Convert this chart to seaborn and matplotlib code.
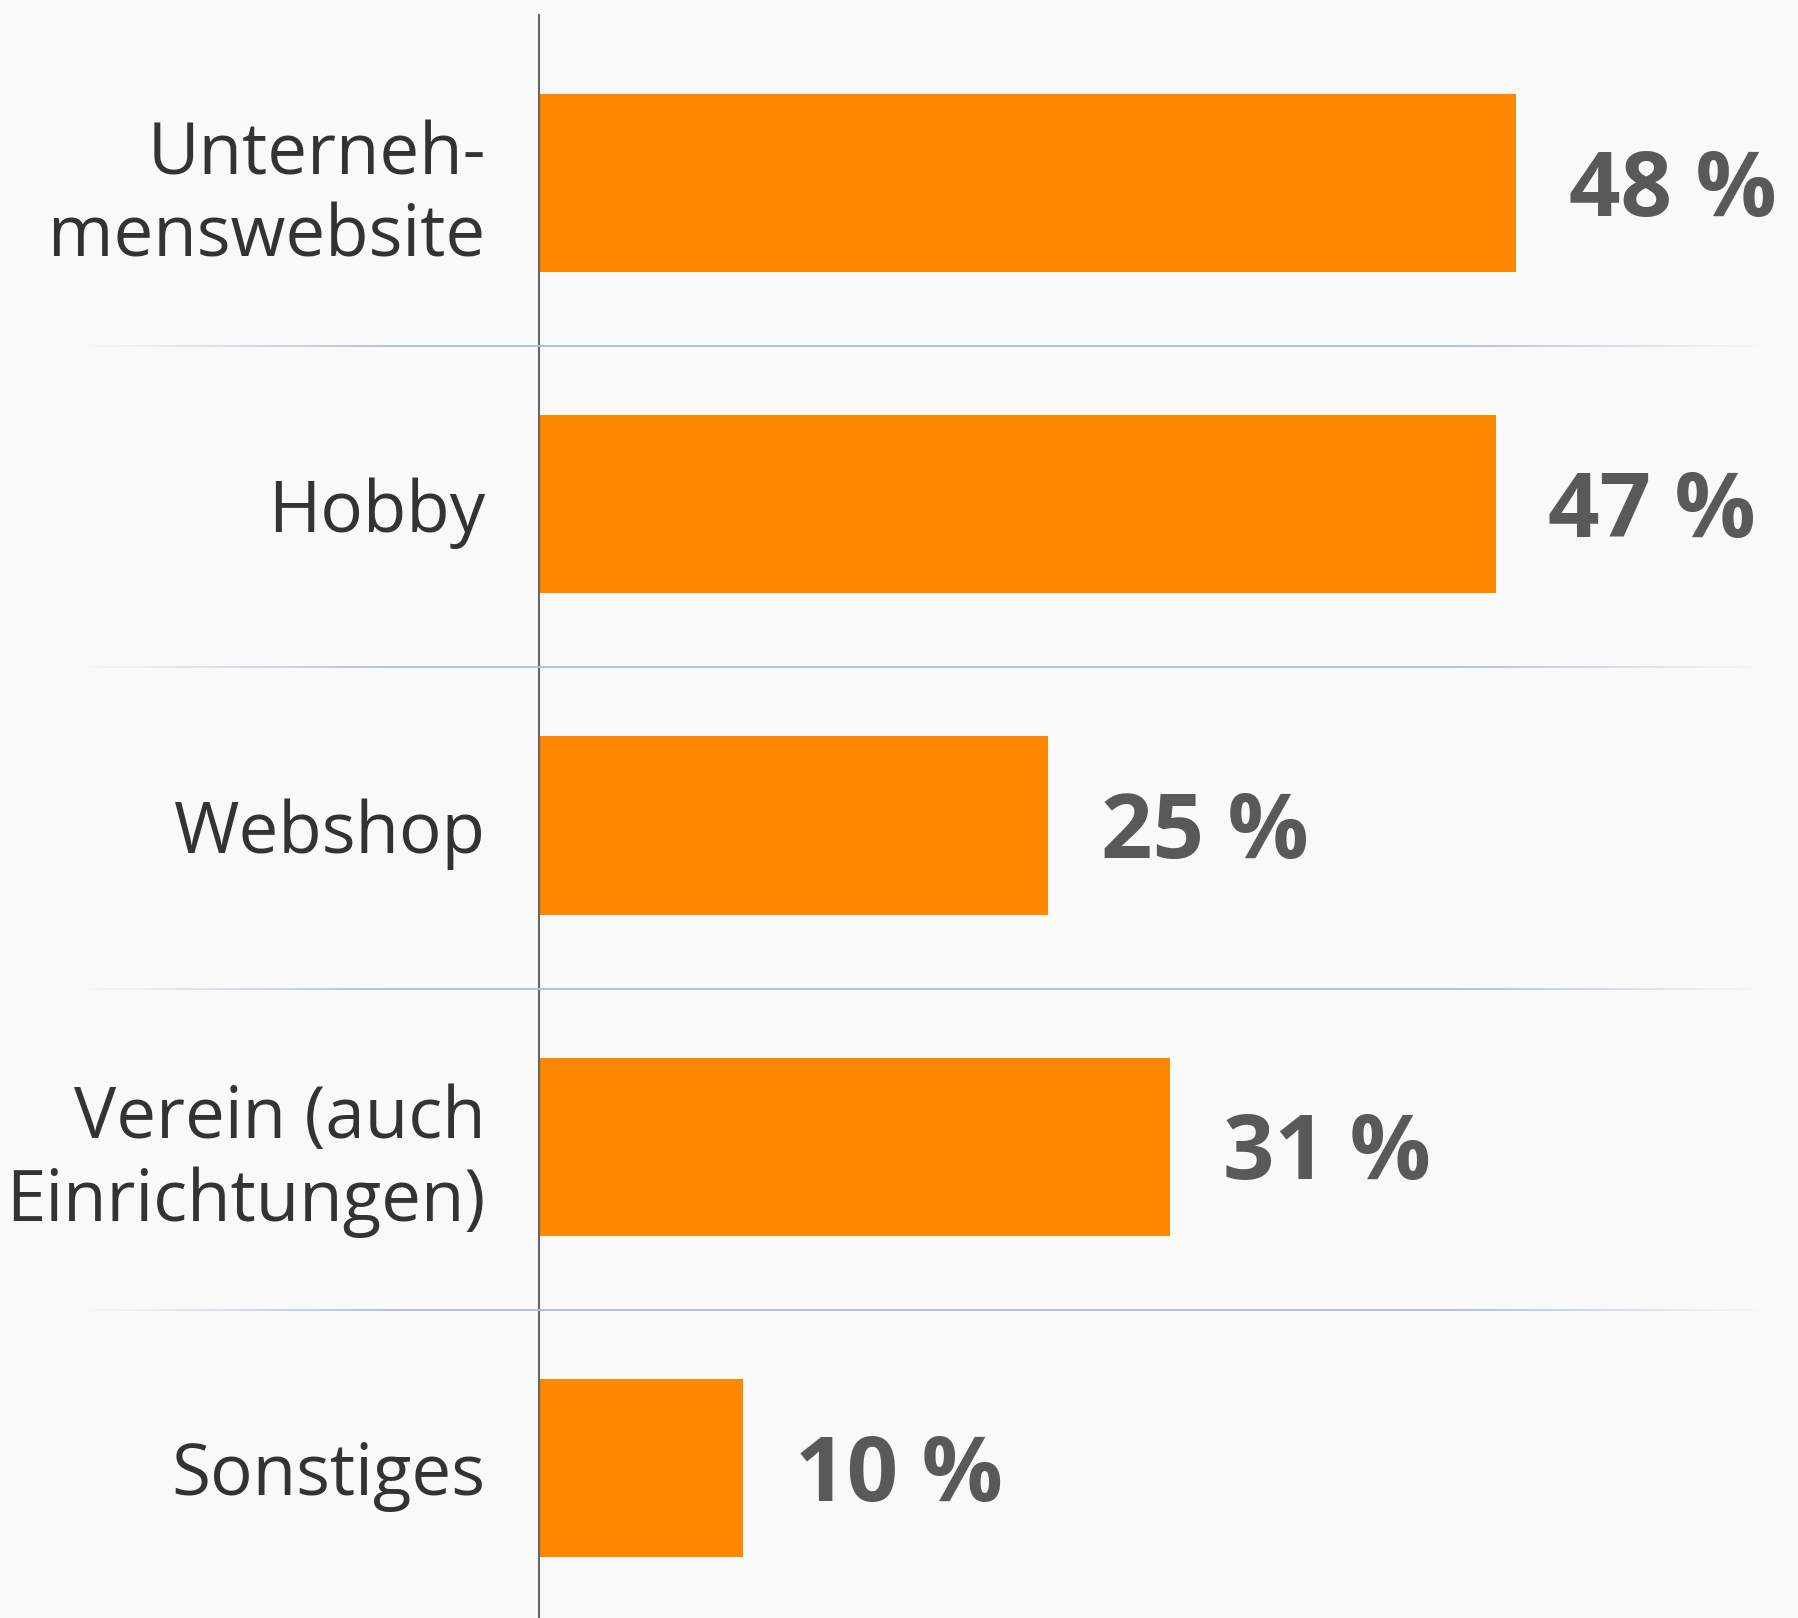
import numpy as np
import pandas as pd
import matplotlib
matplotlib.use("Agg")
import matplotlib.pyplot as plt
import matplotlib.transforms as mtransforms
from matplotlib.collections import LineCollection
import seaborn as sns

categories = ["Unterneh-\nmenswebsite", "Hobby", "Webshop", "Verein (auch\nEinrichtungen)", "Sonstiges"]
values = [48, 47, 25, 31, 10]
value_labels = ["48 %", "47 %", "25 %", "31 %", "10 %"]

BG = "#f9f9f9"
BAR = "#ff8800"

sns.set_theme(style="white")
plt.rcParams["font.family"] = ["Open Sans", "DejaVu Sans"]

fig = plt.figure(figsize=(17.99, 16.18), dpi=100, facecolor=BG)
W, H = 1799, 1618
ax_left = 539 / W
ax = fig.add_axes([ax_left, 0, 1 - ax_left, 1 - 15 / H])
ax.set_facecolor(BG)

df = pd.DataFrame({"cat": categories, "val": values})
sns.barplot(data=df, x="val", y="cat", orient="h", color=BAR, width=0.555,
            saturation=1, ax=ax, edgecolor="none")

ax.set_xlim(0, 61.9)
ax.set_ylim(4.467, -0.523)
ax.set_xlabel("")
ax.set_ylabel("")
ax.set_xticks([])
ax.tick_params(axis="y", length=0, pad=38.5, labelsize=51, labelcolor="#333333")
for t in ax.get_yticklabels():
    t.set_linespacing(1.2)
    t.set_ha("right")

for side in ["top", "right", "bottom"]:
    ax.spines[side].set_visible(False)
ax.spines["left"].set_color("#666666")
ax.spines["left"].set_linewidth(1.5)

for i, (v, lab) in enumerate(zip(values, value_labels)):
    ax.annotate(lab, xy=(v, i), xytext=(38, -7), textcoords="offset points",
                ha="left", va="center", fontsize=65, fontweight="bold",
                color="#595959")

# separators with faded ends
trans = mtransforms.blended_transform_factory(fig.transFigure, ax.transData)
x0, x1 = 80 / W, 1765 / W
n = 300
xs = np.linspace(x0, x1, n + 1)
mids = (xs[:-1] + xs[1:]) / 2
fade = 0.17
alpha = np.clip(np.minimum((mids - x0) / fade, (x1 - mids) / fade), 0, 1)
base = np.array(matplotlib.colors.to_rgb("#b3c1d5"))
for k in range(len(categories) - 1):
    yv = k + 0.508
    segs = [[(xs[i], yv), (xs[i + 1], yv)] for i in range(n)]
    cols = [(*base, a) for a in alpha]
    lc = LineCollection(segs, colors=cols, linewidths=1.4, transform=trans, zorder=0.5)
    fig.add_artist(lc)

fig.savefig("out.png", dpi=100, facecolor=BG)
